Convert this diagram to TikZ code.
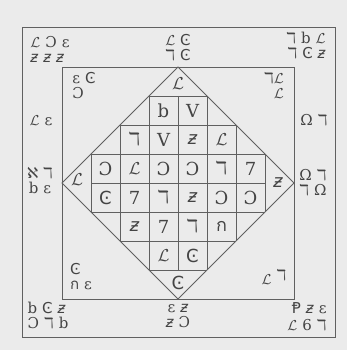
\documentclass[tikz,border=0pt]{standalone}
\usepackage{fontspec}
\setmainfont{DejaVu Serif}
\newfontfamily\symfont{DejaVu Sans}
\newfontfamily\thaifont[Script=Thai]{Loma}

\definecolor{paper}{HTML}{EBEBEB}
\definecolor{ink}{HTML}{444444}

% glyphs of the square
\newcommand{\gL}{$\mathcal{L}$}
\newcommand{\gB}{Ɔ}
\newcommand{\gC}{{\symfont Ͼ}}
\newcommand{\gD}{{\symfont ℸ}}
\newcommand{\gZ}{{\symfont\itshape ƶ}}
\newcommand{\gE}{ε}
\newcommand{\gO}{Ω}
\newcommand{\gH}{{\thaifont ก}}
\newcommand{\gA}{{\symfont ℵ}}
\newcommand{\gP}{{\symfont Ᵽ}}
\newcommand{\gs}{\hspace{5pt}}

\tikzset{
  cell/.style={font=\fontsize{18}{18}\selectfont, text=ink, inner sep=0pt},
  band/.style={font=\fontsize{15}{15}\selectfont, text=ink, inner sep=0pt, align=center}
}

\begin{document}
\begin{tikzpicture}[x=1pt, y=-1pt, line width=0.9pt, draw=gray!75!black]
    \fill[paper] (0,0) rectangle (347,350);

    % Frames
    \draw (22,27) rectangle (335,337);
    \draw (62,67) rectangle (294,299);
    \draw (178,67) -- (294,183) -- (178,299) -- (62,183) -- cycle;

    % Grid
    \foreach \k/\w in {-3/29, -2/58, -1/87, 0/87, 1/87, 2/58, 3/29} {
        \draw ({178-\w},{183+\k*29}) -- ({178+\w},{183+\k*29});
        \draw ({178+\k*29},{183-\w}) -- ({178+\k*29},{183+\w});
    }

    % Cells
    \foreach \r/\c/\g in {0/2/b, 0/3/V,
        1/1/\gD, 1/2/V, 1/3/\gZ, 1/4/\gL,
        2/0/\gB, 2/1/\gL, 2/2/\gB, 2/3/\gB, 2/4/\gD, 2/5/7,
        3/0/\gC, 3/1/7, 3/2/\gD, 3/3/\gZ, 3/4/\gB, 3/5/\gB,
        4/1/\gZ, 4/2/7, 4/3/\gD, 4/4/\gH,
        5/2/\gL, 5/3/\gC} {
        \node[cell] (r\r c\c) at ({178+(\c-2.5)*29},{183+(\r-2.5)*29}) {\g};
    }

    % Corners of the diamond
    \node[cell] (ttop) at (178,84) {\gL};
    \node[cell] (tleft) at (77,180) {\gL};
    \node[cell] (tright) at (278,183) {\gZ};
    \node[cell] (tbot) at (178,283) {\gC};

    % Outer band
    \node[band, align=left] (tl) at (50,49) {\gL\gs\gB\gs\gE\\\gZ\gs\gZ\gs\gZ};
    \node[band] (tm) at (178,48) {\gL\gs\gC\\\gD\gs\gC};
    \node[band, align=right] (tr) at (306,46) {\gD\gs b\gs\gL\\\gD\gs\gC\gs\gZ};
    \node[band] (lu) at (41,121) {\gL\gs\gE};
    \node[band] (ru) at (314,120) {\gO\gs\gD};
    \node[band] (lc) at (40,181) {\gA\gs\gD\\b\gs\gE};
    \node[band] (rc) at (313,183) {\gO\gs\gD\\\gD\gs\gO};
    \node[band, align=left] (bl) at (48,316) {b\gs\gC\gs\gZ\\\gB\gs\gD\gs b};
    \node[band] (bm) at (178,316) {\gE\gs\gZ\\\gZ\gs\gB};
    \node[band, align=right, font=\fontsize{15}{16.5}\selectfont] (br) at (307,317) {\gP\gs\gZ\gs\gE\\\gL\gs 6\gs\gD};

    % Inner corners
    \node[band, align=left] (itl) at (84,86) {\gE\gs\gC\\\gB};
    \node[band, align=right] (itr) at (274,85) {\gD\gL\\\gL};
    \node[band, align=left] (ibl) at (81,277) {\gC\\\gH\gs\gE};
    \node[band] (ibr) at (274,277) {\gL\gs\raisebox{4pt}{\gD}};
\end{tikzpicture}
\end{document}
